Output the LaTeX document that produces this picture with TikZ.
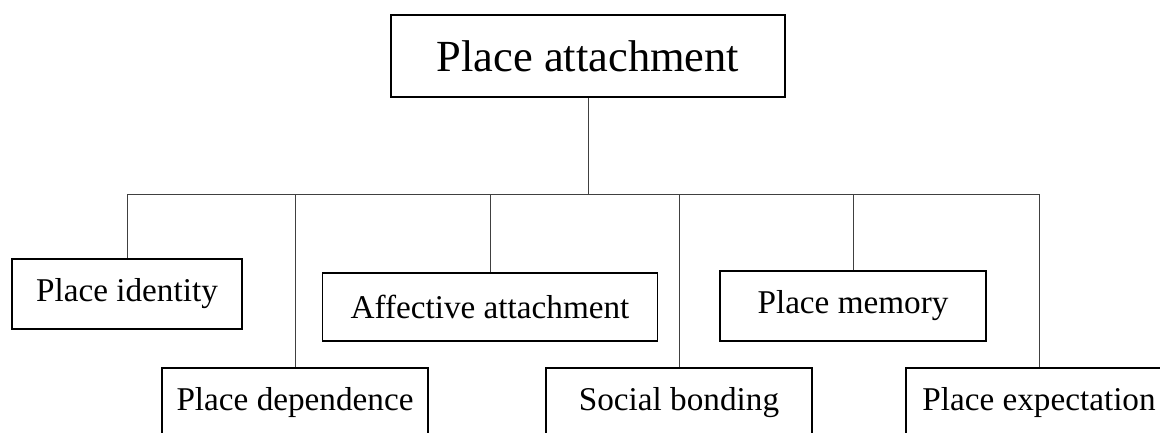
\documentclass[tikz,border=0pt]{standalone}
\usepackage{fontspec}
\setmainfont{Liberation Serif}
\usetikzlibrary{positioning,calc}

\begin{document}
\begin{tikzpicture}[
  top/.style={rectangle, draw=black, line width=1.1pt, inner sep=0pt,
              minimum width=7.88cm, minimum height=1.64cm, align=center,
              font=\fontsize{25.3}{30}\selectfont},
  leaf/.style={rectangle, draw=black, line width=1.1pt, inner sep=0pt,
               minimum width=5.32cm, minimum height=1.4cm, align=center,
               font=\fontsize{18.9}{22}\selectfont},
  link/.style={draw=black!75, line width=0.55pt},
]
\clip (0,0) rectangle (23.2,8.66);

\node[top] (pa) at (11.76,7.54) {Place attachment};
\coordinate (bus) at (11.76,4.78);

\node[leaf, minimum width=4.6cm]                      (ident)  at (2.54,2.78)  {Place identity};
\node[leaf]                                           (depend) at (5.9,0.6)    {Place dependence};
\node[leaf, minimum width=6.7cm, minimum height=1.36cm] (affect) at (9.8,2.52)   {Affective attachment};
\node[leaf]                                           (social) at (13.58,0.6)  {Social bonding};
\node[leaf]                                           (memory) at (17.06,2.54) {Place memory};
\node[leaf]                                           (expect) at (20.78,0.6)  {Place expectation};

\draw[link] (pa.south) -- (bus);
\draw[link] (ident.north |- bus) -- (expect.north |- bus);
\draw[link] (ident.north) -- (ident.north |- bus);
\draw[link] (depend.north) -- (depend.north |- bus);
\draw[link] (affect.north) -- (affect.north |- bus);
\draw[link] (social.north) -- (social.north |- bus);
\draw[link] (memory.north) -- (memory.north |- bus);
\draw[link] (expect.north) -- (expect.north |- bus);

\end{tikzpicture}
\end{document}
